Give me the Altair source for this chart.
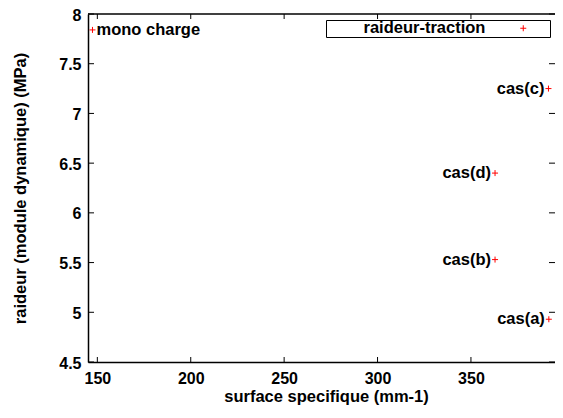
import altair as alt
import pandas as pd

# ---- data ----
surface = [147.4, 391.5, 362.9, 362.9, 391.7]          # surface specifique (mm-1)
raideur = [7.84, 7.25, 6.40, 5.53, 4.93]               # raideur (MPa)
labels = ["mono charge", "cas(c)", "cas(d)", "cas(b)", "cas(a)"]
label_side = ["right", "left", "left", "left", "left"]
series = ["raideur-traction"] * 5

x_ticks = [150, 200, 250, 300, 350]
y_ticks = [4.5, 5, 5.5, 6, 6.5, 7, 7.5, 8]
x_domain = [145, 395]
y_domain = [4.5, 8]

W, H = 467, 348
FONT = "Liberation Sans"
FS = 16.5
PLUS = "M-1,0L1,0M0,-1L0,1"
# invisible padding so the legend box is as wide as gnuplot's key box
KEY_PAD = "\u00a0" * 14 + "\u200b"

df = pd.DataFrame({"surface": surface, "raideur": raideur, "label": labels,
                   "side": label_side, "series": series})
xt = pd.DataFrame({"t": x_ticks})
yt = pd.DataFrame({"t": y_ticks})
frame = pd.DataFrame({"f": [0]})

xscale = alt.Scale(domain=x_domain, nice=False, zero=False)
yscale = alt.Scale(domain=y_domain, nice=False, zero=False)
xaxis = alt.Axis(values=x_ticks, title="surface specifique (mm-1)",
                 labelPadding=8, titlePadding=2, titleX=238,
                 labelFont=FONT, labelFontSize=16, labelFontWeight="bold", labelColor="black",
                 titleFont=FONT, titleFontSize=FS, titleFontWeight="bold", titleColor="black")
yaxis = alt.Axis(values=y_ticks, format="~g", title="raideur (module dynamique) (MPa)",
                 labelPadding=7, titlePadding=30, labelOffset=1,
                 labelFont=FONT, labelFontSize=16, labelFontWeight="bold", labelColor="black",
                 titleFont=FONT, titleFontSize=FS, titleFontWeight="bold", titleColor="black")


def X(f):
    return alt.X(f, scale=xscale, axis=xaxis)


def Y(f):
    return alt.Y(f, scale=yscale, axis=yaxis)


base = alt.Chart(df)

points = base.mark_point(shape=PLUS, filled=False, size=36, strokeWidth=1, opacity=1).encode(
    x=X("surface:Q"),
    y=Y("raideur:Q"),
    color=alt.Color("series:N",
                    scale=alt.Scale(domain=["raideur-traction"], range=["#ff0000"]),
                    legend=alt.Legend(orient="none", legendX=238, legendY=6, title=None,
                                      strokeColor="black", padding=0, cornerRadius=0,
                                      symbolType=PLUS, symbolSize=36, symbolStrokeWidth=1,
                                      symbolStrokeColor="#ff0000", symbolOffset=189,
                                      labelOffset={"expr": "-168"}, labelFont=FONT,
                                      labelFontSize=FS,
                                      labelFontWeight="bold", labelColor="black",
                                      labelLimit=500,
                                      labelExpr="datum.label + '" + KEY_PAD + "'")),
)

text_left = base.transform_filter(alt.datum.side == "left").mark_text(
    align="right", baseline="alphabetic", dx=-4, dy=5,
    font=FONT, fontSize=FS, fontWeight="bold", color="black").encode(
    x=X("surface:Q"), y=Y("raideur:Q"), text="label:N")

text_right = base.transform_filter(alt.datum.side == "right").mark_text(
    align="left", baseline="alphabetic", dx=4, dy=5,
    font=FONT, fontSize=FS, fontWeight="bold", color="black").encode(
    x=X("surface:Q"), y=Y("raideur:Q"), text="label:N")

# inward (gnuplot-style) ticks
tick_bottom = alt.Chart(xt).mark_rule(color="black", strokeWidth=1).encode(
    x=X("t:Q"), y=alt.value(H), y2=alt.value(H - 5))
tick_top = alt.Chart(xt).mark_rule(color="black", strokeWidth=1).encode(
    x=X("t:Q"), y=alt.value(0), y2=alt.value(5))
tick_left = alt.Chart(yt).mark_rule(color="black", strokeWidth=1).encode(
    y=Y("t:Q"), x=alt.value(0), x2=alt.value(6))
tick_right = alt.Chart(yt).mark_rule(color="black", strokeWidth=1).encode(
    y=Y("t:Q"), x=alt.value(W), x2=alt.value(W - 6))
# top border of the frame (right border lies outside the picture in the reference)
top_border = alt.Chart(frame).mark_rule(color="black", strokeWidth=1.5).encode(
    x=alt.value(0), x2=alt.value(W), y=alt.value(0))

chart = alt.layer(
    points, text_left, text_right, tick_bottom, tick_top, tick_left, tick_right, top_border
).properties(
    width=W, height=H,
    autosize=alt.AutoSizeParams(type="none"),
    padding={"left": 80, "top": 6, "right": 0, "bottom": 44},
).configure_view(
    stroke=None
).configure_axis(
    ticks=False, tickSize=0, domain=True, domainColor="black", domainWidth=1.5, grid=False,
)

chart.save("out.html", embed_options={"renderer": "svg", "actions": False})
